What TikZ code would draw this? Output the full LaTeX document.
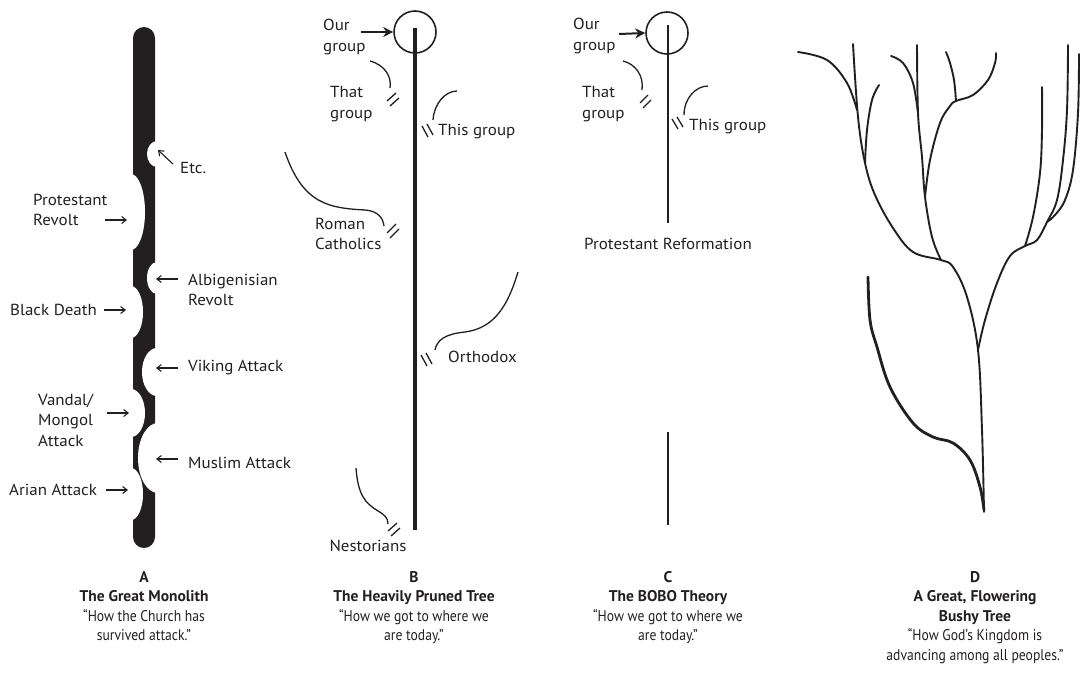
\documentclass[tikz,border=0pt]{standalone}
\usepackage{fontspec}
\setmainfont{PT Sans}
\newfontfamily\capfont[FakeStretch=0.88]{PT Sans}
\newfontfamily\capbf[FakeStretch=1.0]{PT Sans}
\newfontfamily\lblfont[FakeStretch=1.06]{PT Sans}
\newcommand\ttlb[1]{{\capbf\bfseries #1}}
\usetikzlibrary{arrows.meta}
\definecolor{ink}{HTML}{231F20}
\tikzset{
  lbl/.style={inner sep=0pt, font=\lblfont\fontsize{16}{20.5}\selectfont, text=ink, align=left},
  captxt/.style={inner sep=0pt, font=\capfont\fontsize{15.5}{19.5}\selectfont, text=ink, align=center, anchor=north},
  tarrow/.style={draw=ink, line width=1.1pt, -{Straight Barb[length=4.5pt,width=7pt]}},
  barrow/.style={draw=ink, line width=2pt, -{Stealth[length=10pt,width=10pt]}},
  curve/.style={draw=ink, line width=1.3pt},
  brk/.style={draw=ink, line width=1.3pt},
  br/.style={draw=ink, line width=1.9pt, line cap=round, line join=round},
  brthick/.style={draw=ink, line width=2.8pt, line cap=round}
}
\begin{document}
\begin{tikzpicture}[x=1pt,y=-1pt]
\useasboundingbox (0,0) rectangle (1091,672);

% ---------------- A : monolith ----------------
\fill[ink, rounded corners=11pt] (133,27) rectangle (155,548);
\fill[white] (157,154) ellipse [x radius=10pt, y radius=13pt];
\fill[white] (131,212) ellipse [x radius=14pt, y radius=38pt];
\fill[white] (157,278) ellipse [x radius=10pt, y radius=16pt];
\fill[white] (131,312) ellipse [x radius=12pt, y radius=26pt];
\fill[white] (157,372) ellipse [x radius=15pt, y radius=24pt];
\fill[white] (131,413) ellipse [x radius=14pt, y radius=24pt];
\fill[white] (158,458) ellipse [x radius=20pt, y radius=35pt];
\fill[white] (131,494) ellipse [x radius=12pt, y radius=26pt];

\node[lbl, anchor=west] (etc) at (180,168) {Etc.};
\node[lbl, anchor=west] (prot) at (33,210) {Protestant\\Revolt};
\node[lbl, anchor=west] (albi) at (188,290) {Albigenisian\\Revolt};
\node[lbl, anchor=west] (black) at (10,310) {Black Death};
\node[lbl, anchor=west] (viking) at (188,368) {Viking Attack};
\node[lbl, anchor=west] (vandal) at (38,420) {Vandal/\\Mongol\\Attack};
\node[lbl, anchor=west] (muslim) at (188,463) {Muslim Attack};
\node[lbl, anchor=west] (arian) at (9,490) {Arian Attack};

\coordinate (etcS) at (173,164); \coordinate (etcT) at (158,150);
\coordinate (protS) at (105,220); \coordinate (protT) at (127,220);
\coordinate (albiS) at (178,279); \coordinate (albiT) at (156,279);
\coordinate (blackS) at (104,310); \coordinate (blackT) at (126,310);
\coordinate (vikS) at (178,368); \coordinate (vikT) at (156,368);
\coordinate (vanS) at (107,413); \coordinate (vanT) at (129,413);
\coordinate (musS) at (178,459); \coordinate (musT) at (156,459);
\coordinate (ariS) at (106,490); \coordinate (ariT) at (128,490);
\draw[tarrow] (etcS) -- (etcT);
\draw[tarrow] (protS) -- (protT);
\draw[tarrow] (albiS) -- (albiT);
\draw[tarrow] (blackS) -- (blackT);
\draw[tarrow] (vikS) -- (vikT);
\draw[tarrow] (vanS) -- (vanT);
\draw[tarrow] (musS) -- (musT);
\draw[tarrow] (ariS) -- (ariT);

% ---------------- B : pruned tree ----------------
\coordinate (Btop) at (415,28); \coordinate (Bbot) at (415,530);
\draw[ink, line width=4pt] (Btop) -- (Bbot);
\node[draw=ink, line width=1.6pt, circle, minimum size=42pt, inner sep=0pt] (Bcirc) at (415,32) {};
\node[lbl, anchor=west] (Bour) at (323,37) {Our\\group};
\coordinate (BourS) at (361,32);
\draw[barrow] (BourS) -- (Bcirc.west);

\node[lbl, anchor=west] (Bthat) at (330,104) {That\\group};
\draw[curve] (370,61) .. controls (385,65) and (392,77) .. (390,88);
\draw[brk] (387,101) -- (396,93) (390,106) -- (399,98);

\node[lbl, anchor=west] (Bthis) at (438,132) {This group};
\draw[curve] (457,91) .. controls (445,91) and (434,104) .. (433,120);
\draw[brk] (422,126) -- (428,137) (427,124) -- (433,135);

\node[lbl, anchor=west] (Broman) at (315,234) {Roman\\Catholics};
\draw[curve] (285,152) .. controls (303,205) and (330,208) .. (365,210) .. controls (378,211) and (383,218) .. (384,226);
\draw[brk] (387,233) -- (396,224) (390,238) -- (399,229);

\node[lbl, anchor=west] (Borth) at (448,357) {Orthodox};
\draw[curve] (518,272) .. controls (508,305) and (495,328) .. (465,332) .. controls (445,334) and (437,340) .. (435,350);
\draw[brk] (421,355) -- (427,366) (426,353) -- (432,364);

\node[lbl] (Bnest) at (368,546) {Nestorians};
\draw[curve] (356,468) .. controls (358,495) and (365,503) .. (378,511) .. controls (385,515) and (388,518) .. (388,524);
\draw[brk] (388,531) -- (397,523) (391,536) -- (400,528);

% ---------------- C : BOBO ----------------
\coordinate (Ctop) at (668,25); \coordinate (Cmid) at (668,223);
\coordinate (Clo1) at (668,432); \coordinate (Clo2) at (668,525);
\draw[ink, line width=2.6pt] (Ctop) -- (Cmid);
\draw[ink, line width=2.8pt] (Clo1) -- (Clo2);
\node[draw=ink, line width=1.6pt, circle, minimum size=42pt, inner sep=0pt] (Ccirc) at (667,33) {};
\node[lbl, anchor=west] (Cour) at (573,36) {Our\\group};
\coordinate (CourS) at (619,34);
\draw[barrow] (CourS) -- (Ccirc.west);
\node[lbl, anchor=west] (Cthat) at (582,104) {That\\group};
\draw[curve] (623,61) .. controls (635,64) and (644,75) .. (642,90);
\draw[brk] (640,103) -- (648,95) (643,108) -- (651,100);
\node[lbl, anchor=west] (Cthis) at (689,127) {This group};
\draw[curve] (708,86) .. controls (696,86) and (684,98) .. (684,115);
\draw[brk] (672,119) -- (678,129) (677,117) -- (683,127);
\node[lbl] (Cprot) at (668,244) {Protestant Reformation};

% ---------------- D : bushy tree ----------------
\draw[br] plot[smooth, tension=0.6] coordinates {(984,512) (982,430) (978,350) (967,297) (953,267) (941,260) (913,252) (893,228) (875,195) (865,163) (858,117) (853,44)};
\draw[br] plot[smooth, tension=0.6] coordinates {(941,260) (932,237) (925,197) (922,157) (918,113) (917,45)};
\draw[br] plot[smooth, tension=0.6] coordinates {(925,197) (930,160) (940,123) (950,106) (956,101) (973,95) (988,80) (995,63) (996,53)};
\draw[br] plot[smooth, tension=0.6] coordinates {(956,101) (954,80) (950,63) (946,52)};
\draw[br] plot[smooth, tension=0.6] coordinates {(891,56) (903,63) (913,83) (918,113)};
\draw[br] plot[smooth, tension=0.6] coordinates {(798,52) (827,60) (847,83) (857,110)};
\draw[br] plot[smooth, tension=0.6] coordinates {(865,163) (867,130) (872,100) (879,85)};
\draw[br] plot[smooth, tension=0.6] coordinates {(978,350) (985,320) (997,283) (1010,256) (1025,246) (1037,240) (1047,222) (1057,200) (1063,160) (1067,110) (1068,45)};
\draw[br] plot[smooth, tension=0.6] coordinates {(1047,222) (1055,215) (1065,200) (1073,170) (1078,113) (1079,54)};
\draw[br] plot[smooth, tension=0.6] coordinates {(1025,246) (1033,217) (1040,173) (1042,130) (1042,87)};
\draw[brthick] plot[smooth, tension=0.6] coordinates {(868,277) (870,320) (877,347) (890,387) (913,423) (933,437) (953,443) (970,460) (980,487) (984,510)};

% ---------------- captions ----------------
\node[captxt] (capA) at (144,571) {\ttlb{A}\\\ttlb{The Great Monolith}\\“How the Church has\\survived attack.”};
\node[captxt] (capB) at (414,571) {\ttlb{B}\\\ttlb{The Heavily Pruned Tree}\\“How we got to where we\\are today.”};
\node[captxt] (capC) at (668,571) {\ttlb{C}\\\ttlb{The BOBO Theory}\\“How we got to where we\\are today.”};
\node[captxt] (capD) at (975,571) {\ttlb{D}\\\ttlb{A Great, Flowering}\\\ttlb{Bushy Tree}\\“How God’s Kingdom is\\advancing among all peoples.”};
\end{tikzpicture}
\end{document}
